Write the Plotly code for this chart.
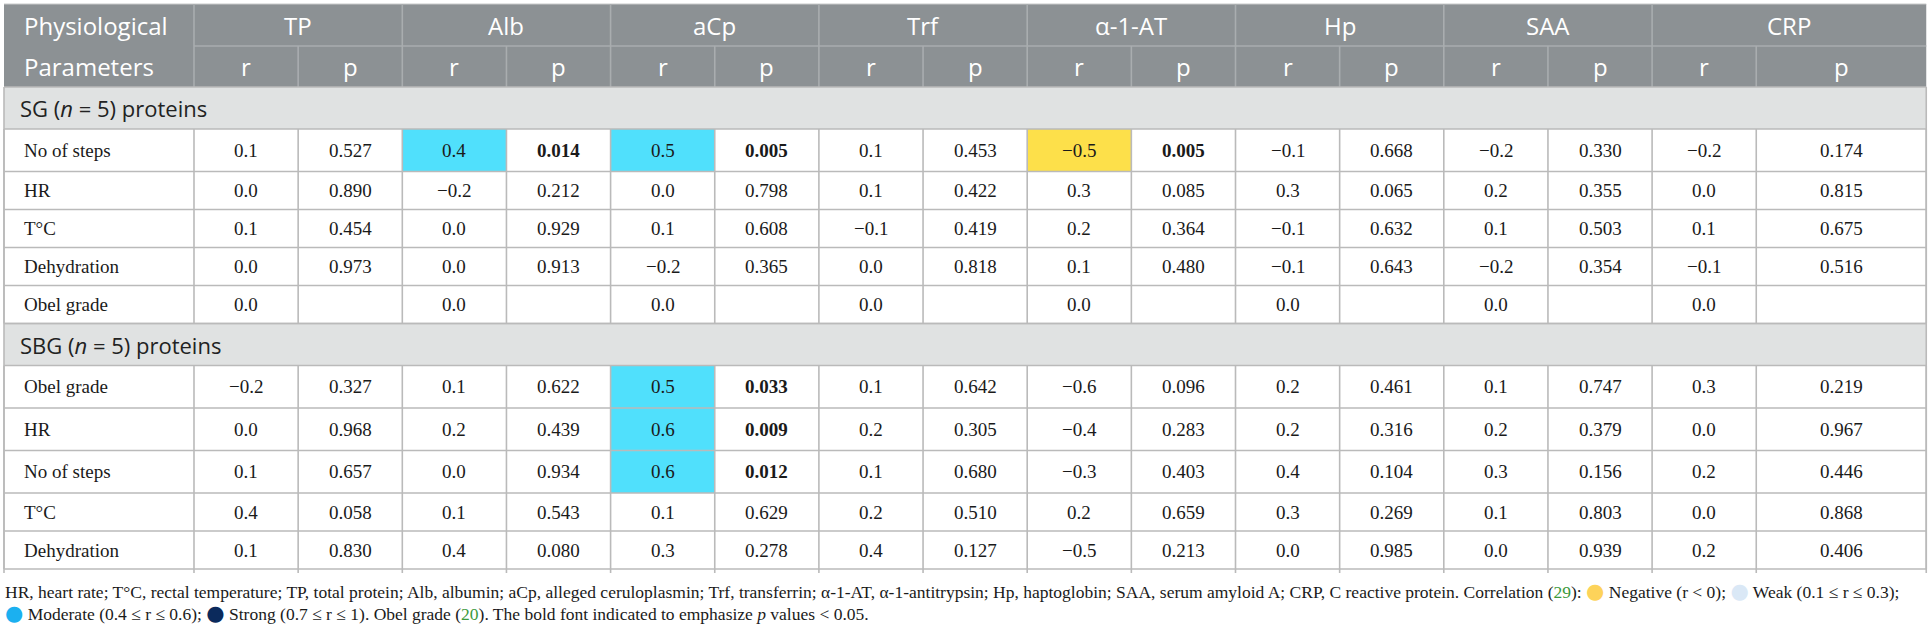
import plotly.graph_objects as go

# ---- data ----
proteins = ["TP", "Alb", "aCp", "Trf", "α-1-AT", "Hp", "SAA", "CRP"]

sg_params = ["No of steps", "HR", "T°C", "Dehydration", "Obel grade"]
sg_r = [
    [0.1, 0.4, 0.5, 0.1, -0.5, -0.1, -0.2, -0.2],
    [0.0, -0.2, 0.0, 0.1, 0.3, 0.3, 0.2, 0.0],
    [0.1, 0.0, 0.1, -0.1, 0.2, -0.1, 0.1, 0.1],
    [0.0, 0.0, -0.2, 0.0, 0.1, -0.1, -0.2, -0.1],
    [0.0, 0.0, 0.0, 0.0, 0.0, 0.0, 0.0, 0.0],
]
sg_p = [
    [0.527, 0.014, 0.005, 0.453, 0.005, 0.668, 0.330, 0.174],
    [0.890, 0.212, 0.798, 0.422, 0.085, 0.065, 0.355, 0.815],
    [0.454, 0.929, 0.608, 0.419, 0.364, 0.632, 0.503, 0.675],
    [0.973, 0.913, 0.365, 0.818, 0.480, 0.643, 0.354, 0.516],
    [None, None, None, None, None, None, None, None],
]

sbg_params = ["Obel grade", "HR", "No of steps", "T°C", "Dehydration"]
sbg_r = [
    [-0.2, 0.1, 0.5, 0.1, -0.6, 0.2, 0.1, 0.3],
    [0.0, 0.2, 0.6, 0.2, -0.4, 0.2, 0.2, 0.0],
    [0.1, 0.0, 0.6, 0.1, -0.3, 0.4, 0.3, 0.2],
    [0.4, 0.1, 0.1, 0.2, 0.2, 0.3, 0.1, 0.0],
    [0.1, 0.4, 0.3, 0.4, -0.5, 0.0, 0.0, 0.2],
]
sbg_p = [
    [0.327, 0.622, 0.033, 0.642, 0.096, 0.461, 0.747, 0.219],
    [0.968, 0.439, 0.009, 0.305, 0.283, 0.316, 0.379, 0.967],
    [0.657, 0.934, 0.012, 0.680, 0.403, 0.104, 0.156, 0.446],
    [0.058, 0.543, 0.629, 0.510, 0.659, 0.269, 0.803, 0.868],
    [0.830, 0.080, 0.278, 0.127, 0.213, 0.985, 0.939, 0.406],
]

groups = [
    ("SG (<i>n</i> = 5) proteins", sg_params, sg_r, sg_p),
    ("SBG (<i>n</i> = 5) proteins", sbg_params, sbg_r, sbg_p),
]
alpha = 0.05

# ---- look ----
W, H = 1929, 628
LEFT, TOP = 4, 4
FIRST_W, COL_W, LAST_W = 190, 104.15, 170
HEAD_H = [42, 41]
SECTION_H = 42
ROW_H, ROW_H_HI = 38, 42.5

HEAD_BG = "#8c9194"
HEAD_LINE = "#a9adaf"
SECTION_BG = "#e0e2e2"
GRID = "#bababa"
POS_FILL = "#50e0fc"
NEG_FILL = "#fde04a"
TXT = "#1a1a1a"
SANS = "Open Sans"
SERIF = "Liberation Serif"

col_w = [FIRST_W] + [COL_W] * (2 * len(proteins) - 1) + [LAST_W]
x_edges = [LEFT]
for w in col_w:
    x_edges.append(x_edges[-1] + w)
RIGHT = x_edges[-1]


def fmt_r(v):
    return f"{v:.1f}".replace("-", "\u2212")


def fmt_p(v):
    return "" if v is None else f"{v:.3f}"


fig = go.Figure(go.Scatter(x=[], y=[], hoverinfo="skip", showlegend=False))


def rect(x0, x1, y0, y1, fill):
    fig.add_shape(type="rect", xref="x", yref="y", x0=x0, x1=x1, y0=y0, y1=y1,
                  fillcolor=fill, line_width=0, layer="below")


def line(x0, x1, y0, y1, color, width=1.6):
    fig.add_shape(type="line", xref="x", yref="y", x0=x0, x1=x1, y0=y0, y1=y1,
                  line=dict(color=color, width=width))


def text(x, y, s, size, color=TXT, family=SERIF, anchor="center"):
    fig.add_annotation(x=x, y=y, xref="x", yref="y", text=s, showarrow=False,
                       xanchor=anchor, yanchor="middle",
                       font=dict(family=family, size=size, color=color))


# header
y0 = TOP
y1 = y0 + HEAD_H[0]
y2 = y1 + HEAD_H[1]
rect(LEFT, RIGHT, y0, y2, HEAD_BG)
line(LEFT, RIGHT, y0, y0, "#c9cbcc", 1.2)
line(x_edges[1], RIGHT, y1, y1, HEAD_LINE)
text(LEFT + 18, (y0 + y1) / 2, "Physiological", 24, "white", SANS, "left")
text(LEFT + 18, (y1 + y2) / 2, "Parameters", 24, "white", SANS, "left")
for i, name in enumerate(proteins):
    xa, xm, xb = x_edges[1 + 2 * i], x_edges[2 + 2 * i], x_edges[3 + 2 * i]
    line(xa, xa, y0, y2, HEAD_LINE)
    line(xm, xm, y1, y2, HEAD_LINE)
    text((xa + xb) / 2, (y0 + y1) / 2, name, 24, "white", SANS)
    text((xa + xm) / 2, (y1 + y2) / 2, "r", 24, "white", SANS)
    text((xm + xb) / 2, (y1 + y2) / 2, "p", 24, "white", SANS)

y = y2
for gi, (title, params, rvals, pvals) in enumerate(groups):
    # section row
    rect(LEFT, RIGHT, y, y + SECTION_H, SECTION_BG)
    line(LEFT, RIGHT, y, y, GRID)
    text(LEFT + 14, y + SECTION_H / 2, title, 22, "#222222", SANS, "left")
    y += SECTION_H
    line(LEFT, RIGHT, y, y, GRID)
    block_top = y
    for name, rr, pp in zip(params, rvals, pvals):
        hi = any(p is not None and p < alpha for p in pp)
        h = ROW_H_HI if hi else ROW_H
        text(LEFT + 18, y + h / 2, name, 19, anchor="left")
        for i, (r, p) in enumerate(zip(rr, pp)):
            xa, xm, xb = x_edges[1 + 2 * i], x_edges[2 + 2 * i], x_edges[3 + 2 * i]
            sig = p is not None and p < alpha
            if sig:
                rect(xa, xm, y, y + h, POS_FILL if r > 0 else NEG_FILL)
            text((xa + xm) / 2, y + h / 2, fmt_r(r), 19)
            ps = fmt_p(p)
            text((xm + xb) / 2, y + h / 2, f"<b>{ps}</b>" if sig else ps, 19)
        y += h
        line(LEFT, RIGHT, y, y, GRID)
    tail = 4 if gi == len(groups) - 1 else 0
    for xe in x_edges:
        line(xe, xe, block_top, y + tail, GRID)
line(LEFT, LEFT, y2, y, GRID)
line(RIGHT, RIGHT, y2, y, GRID)

# caption
green = "#3c9a3c"


def dot(c):
    return f"<span style='color:{c};font-family:DejaVu Sans;font-size:21px'>●</span>"


cap1 = ("HR, heart rate; T°C, rectal temperature; TP, total protein; Alb, albumin; aCp, alleged "
        "ceruloplasmin; Trf, transferrin; α-1-AT, α-1-antitrypsin; Hp, haptoglobin; SAA, serum "
        f"amyloid A; CRP, C reactive protein. Correlation (<span style='color:{green}'>29</span>): "
        f"{dot('#fdd35a')} Negative (r &lt; 0); {dot('#dae8f6')} Weak (0.1 ≤ r ≤ 0.3);")
cap2 = (f"{dot('#1bb0f0')} Moderate (0.4 ≤ r ≤ 0.6); {dot('#0b2a5c')} Strong (0.7 ≤ r ≤ 1). "
        f"Obel grade (<span style='color:{green}'>20</span>). The bold font indicated to "
        "emphasize <i>p</i> values &lt; 0.05.")
text(LEFT - 1, 591, cap1, 17.5, anchor="left")
text(LEFT - 1, 613, cap2, 17.5, anchor="left")

fig.update_xaxes(range=[0, W], visible=False, fixedrange=True)
fig.update_yaxes(range=[H, 0], visible=False, fixedrange=True)
fig.update_layout(width=W, height=H, margin=dict(l=0, r=0, t=0, b=0),
                  paper_bgcolor="white", plot_bgcolor="white", showlegend=False)

fig.write_html("out.html", config={"displayModeBar": False},
               post_script="document.body.style.margin='0';document.body.style.overflow='hidden';")
